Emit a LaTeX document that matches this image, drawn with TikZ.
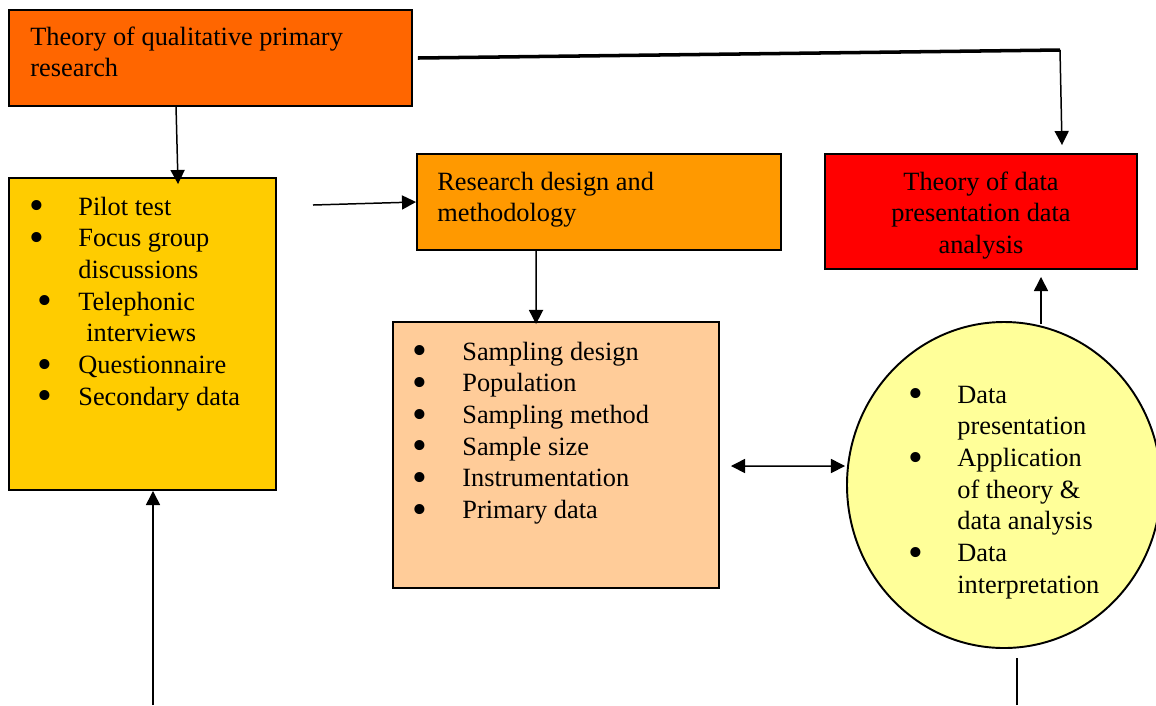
\documentclass[tikz,border=0pt]{standalone}
\usepackage{fontspec}
\setmainfont{Liberation Serif}
\usepackage{tikz}
\usetikzlibrary{arrows.meta,shapes,calc}

\definecolor{qualorange}{HTML}{FF6600}
\definecolor{listyellow}{HTML}{FFCC00}
\definecolor{designorange}{HTML}{FF9900}
\definecolor{theoryred}{HTML}{FF0000}
\definecolor{samplepeach}{HTML}{FFCC99}
\definecolor{datayellow}{HTML}{FFFF99}
\newcommand\bul{\smash{\raisebox{-2.6pt}{\scalebox{1.6}{\textbullet}}}}

\tikzset{
  box/.style={draw,line width=1.1pt,inner sep=0pt},
  txt/.style={inner sep=0pt,font=\fontsize{15}{18}\selectfont},
  arr/.style={line width=0.85pt,-{Triangle[length=8pt,width=8pt]}},
  dbl/.style={line width=0.85pt,{Triangle[length=8pt,width=8pt]}-{Triangle[length=8pt,width=8pt]}}
}

\begin{document}
\begin{tikzpicture}
\useasboundingbox (0,0) rectangle (23.12,-14.1);
% boxes
\node[box,fill=qualorange,minimum width=8.06cm,minimum height=1.92cm] (qual) at (4.21,-1.16){};
\node[box,fill=listyellow,minimum width=5.34cm,minimum height=6.24cm] (pilot) at (2.85,-6.68){};
\node[box,fill=designorange,minimum width=7.28cm,minimum height=1.92cm] (design) at (11.98,-4.04){};
\node[box,fill=theoryred,minimum width=6.24cm,minimum height=2.30cm] (present) at (19.62,-4.23){};
\node[box,fill=samplepeach,minimum width=6.52cm,minimum height=5.32cm] (sampling) at (11.12,-9.10){};
\node[box,ellipse,fill=datayellow,minimum width=6.28cm,minimum height=6.52cm] (analysis) at (20.08,-9.70){};
% texts
\node[txt,anchor=north west] (qualtxt) at (0.60,-0.456){\begin{tabular}{@{}l@{}}
Theory of qualitative primary\\ research\end{tabular}};
\node[txt,anchor=north west] (designtxt) at (8.74,-3.356){\begin{tabular}{@{}l@{}}
Research design and\\ methodology\end{tabular}};
\node[txt,anchor=north] (presenttxt) at (19.62,-3.356){\begin{tabular}{@{}c@{}}
Theory of data\\ presentation data\\ analysis\end{tabular}};
\node[txt,anchor=north west] (pilottxt) at (0.58,-3.856){\begin{tabular}{@{}p{0.98cm}@{}l@{}}
\bul & Pilot test\\
\bul & Focus group\\
 & discussions\\
\hspace*{0.16cm}\bul & Telephonic\\
 & \hspace*{0.16cm}interviews\\
\hspace*{0.16cm}\bul & Questionnaire\\
\hspace*{0.16cm}\bul & Secondary data
\end{tabular}};
\node[txt,anchor=north west] (samplingtxt) at (8.25,-6.756){\begin{tabular}{@{}p{0.99cm}@{}l@{}}
\bul & Sampling design\\
\bul & Population\\
\bul & Sampling method\\
\bul & Sample size\\
\bul & Instrumentation\\
\bul & Primary data
\end{tabular}};
\node[txt,anchor=north west] (analysistxt) at (18.17,-7.616){\begin{tabular}{@{}p{0.97cm}@{}l@{}}
\bul & Data\\
 & presentation\\
\bul & Application\\
 & of theory \&\\
 & data analysis\\
\bul & Data\\
 & interpretation
\end{tabular}};
% connectors
\coordinate (bend) at (21.2,-1.0);
\coordinate (pilotout) at (6.26,-4.10);
\coordinate (bottomL) at (3.06,-14.1);
\coordinate (bottomR) at (20.34,-14.1);
\draw[line width=2pt] ($(qual.east)+(0.1,0)$) -- (bend);
\draw[arr] (bend) -- ($(bend |- present.north)+(0.04,0.16)$);
\draw[arr] ($(qual.south west)+(3.36,0)$) -- ($(pilot.north west)+(3.40,-0.14)$);
\draw[arr] (pilotout) -- (design.west);
\draw[arr] ($(design.south west)+(2.40,0)$) -- ($(sampling.north west)+(2.88,-0.06)$);
\draw[dbl] ($(sampling.east)+(0.22,-0.22)$) -- ($(analysis.west)+(-0.02,0.38)$);
\draw[arr] ($(analysis.north)+(0.74,-0.06)$) -- ($(present.south -| analysis.north)+(0.74,-0.14)$);
\draw[arr] (bottomL) -- (bottomL |- pilot.south);
\draw[line width=0.85pt] (bottomR) -- ++(0,0.94);
\end{tikzpicture}
\end{document}
